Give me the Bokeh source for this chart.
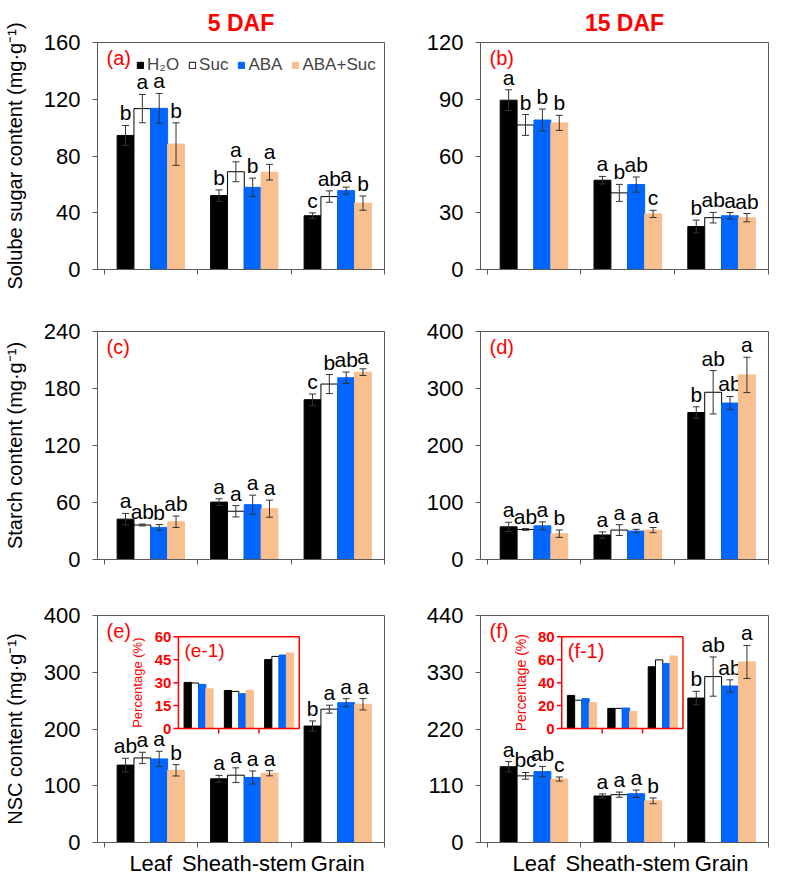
import numpy as np
from bokeh.plotting import figure
from bokeh.models import Range1d, FixedTicker, ColumnDataSource, Whisker, TeeHead, Legend, LegendItem
from bokeh.transform import dodge
from bokeh.layouts import gridplot
from bokeh.embed import file_html
from bokeh.resources import INLINE
from bokeh.core.properties import value

# ---------------- data ----------------
organs = ["Leaf", "Sheath-stem", "Grain"]
treatments = ["H\u2082O", "Suc", "ABA", "ABA+Suc"]

# (a) soluble sugar, 5 DAF  rows = organs, cols = treatments
sugar5_mean = [[94.5, 113.4, 113.6, 88.4], [52.1, 68.9, 57.9, 68.6], [37.9, 51.4, 55.6, 46.8]]
sugar5_err = [[7.0, 10.0, 10.5, 15.0], [4.0, 7.0, 6.5, 5.5], [2.0, 4.0, 2.5, 5.0]]
sugar5_let = [["b", "a", "a", "b"], ["b", "a", "b", "a"], ["c", "ab", "a", "b"]]

# (b) soluble sugar, 15 DAF
sugar15_mean = [[89.5, 76.4, 79.0, 77.5], [47.2, 40.5, 44.9, 29.4], [22.7, 27.4, 28.4, 27.4]]
sugar15_err = [[5.5, 5.5, 5.8, 4.0], [2.0, 4.5, 4.0, 1.9], [3.4, 2.8, 1.7, 2.2]]
sugar15_let = [["a", "b", "b", "b"], ["a", "b", "ab", "c"], ["b", "ab", "a", "ab"]]

# (c) starch, 5 DAF
starch5_mean = [[42.5, 36.3, 33.8, 39.7], [60.4, 50.8, 57.7, 53.5], [168.2, 184.7, 191.3, 197.2]]
starch5_err = [[6.0, 1.0, 3.0, 6.0], [3.5, 6.0, 10.0, 9.0], [6.0, 10.0, 6.0, 3.5]]
starch5_let = [["a", "ab", "b", "ab"], ["a", "a", "a", "a"], ["c", "b", "ab", "a"]]

# (d) starch, 15 DAF
starch15_mean = [[57.3, 52.7, 59.0, 45.3], [43.0, 51.6, 49.9, 51.6], [257.9, 293.4, 274.5, 323.8]]
starch15_err = [[8.0, 1.5, 7.0, 6.5], [5.5, 9.5, 3.0, 4.5], [10.0, 38.0, 11.5, 31.0]]
starch15_let = [["a", "ab", "a", "b"], ["a", "a", "a", "a"], ["b", "ab", "ab", "a"]]

# (e) NSC, 5 DAF
nsc5_mean = [[136.4, 149.0, 147.3, 127.2], [112.3, 118.6, 114.6, 122.0], [205.2, 235.0, 246.4, 243.6]]
nsc5_err = [[12.0, 10.0, 13.5, 10.0], [6.0, 13.0, 11.5, 4.5], [9.0, 7.0, 7.0, 10.0]]
nsc5_let = [["ab", "a", "a", "b"], ["a", "a", "a", "a"], ["b", "a", "a", "a"]]

# (f) NSC, 15 DAF
nsc15_mean = [[146.9, 129.2, 137.4, 123.0], [90.2, 92.7, 94.6, 80.7], [280.0, 321.6, 303.3, 350.0]]
nsc15_err = [[10.0, 6.5, 10.0, 4.0], [4.0, 5.0, 7.0, 5.5], [13.0, 38.0, 12.0, 32.0]]
nsc15_let = [["a", "bc", "ab", "c"], ["a", "a", "a", "b"], ["b", "ab", "ab", "a"]]

# insets: percentage of NSC (%)
pct5 = [[30.2, 29.8, 28.9, 26.0], [24.9, 24.3, 22.8, 25.1], [45.1, 47.2, 48.1, 49.4]]
pct15 = [[28.9, 24.7, 26.1, 22.7], [17.6, 17.6, 17.9, 15.0], [53.9, 59.9, 56.7, 63.3]]

# ---------------- style ----------------
FONT = "Liberation Sans"
RED = "#FF0000"
AXIS = "#595959"
ERR = "#333333"
FILLS = ["#000000", "#FFFFFF", "#0066FF", "#F9BF8F"]
LINES = ["#000000", "#000000", "#0066FF", "#F9BF8F"]
OFFS = [-0.27, -0.09, 0.09, 0.27]
BAR_W = 0.18
X0, X1 = -0.07, 3.0
centers = [i + 0.5 for i in range(len(organs))]


def make_panel(means, errs, lets, ymax, step, tag, left, height, btop, bbot,
               ylabel=None, title=None, xlabels=False, legend=False):
    p = figure(width=386 if left else 385, height=height,
               x_range=Range1d(X0, X1), y_range=Range1d(0, ymax),
               output_backend="svg", toolbar_location=None,
               min_border_left=96 if left else 94, min_border_right=2 if left else 3,
               min_border_top=btop, min_border_bottom=bbot)
    p.background_fill_color = "white"
    p.border_fill_color = "white"
    p.grid.visible = False
    p.outline_line_color = AXIS
    p.outline_line_width = 1

    rends = []
    for j in range(len(treatments)):
        top = [means[i][j] for i in range(3)]
        err = [errs[i][j] for i in range(3)]
        src = ColumnDataSource(dict(
            x=centers, top=top,
            upper=[t + e for t, e in zip(top, err)],
            lower=[t - e for t, e in zip(top, err)],
            letter=[lets[i][j] for i in range(3)]))
        r = p.vbar(x=dodge("x", OFFS[j]), top="top", width=BAR_W, source=src,
                   fill_color=FILLS[j], line_color=LINES[j], line_width=1)
        rends.append(r)
        w = Whisker(base=dodge("x", OFFS[j]), upper="upper", lower="lower", source=src,
                    line_color=ERR, line_width=1, level="annotation",
                    upper_head=TeeHead(size=7, line_color=ERR, line_width=1),
                    lower_head=TeeHead(size=7, line_color=ERR, line_width=1))
        p.add_layout(w)
        p.text(x=dodge("x", OFFS[j]), y="upper", text="letter", source=src,
               text_align="center", text_baseline="bottom", y_offset=-1,
               text_font=value(FONT), text_font_size="21px", text_color="black")

    # panel tag
    p.text(x=[X0], y=[ymax], text=[tag], x_offset=9, y_offset=4,
           text_align="left", text_baseline="top", text_font=value(FONT),
           text_font_size="20px", text_color=RED)

    # axes
    xa = p.xaxis[0]
    xa.ticker = FixedTicker(ticks=centers, minor_ticks=[0, 1, 2, 3])
    xa.major_tick_line_color = None
    xa.minor_tick_line_color = AXIS
    xa.minor_tick_in = 0
    xa.minor_tick_out = 5
    xa.axis_line_color = AXIS
    xa.major_label_text_font = FONT
    xa.major_label_text_color = "black"
    xa.major_label_standoff = 2
    if xlabels:
        xa.major_label_text_font_size = "22px"
        xa.major_label_overrides = {c: o for c, o in zip(centers, organs)}
    else:
        xa.major_label_text_font_size = "1px"
        xa.major_label_overrides = {c: "" for c in centers}

    ya = p.yaxis[0]
    ya.ticker = FixedTicker(ticks=list(range(0, ymax + 1, step)))
    ya.minor_tick_line_color = None
    ya.major_tick_line_color = AXIS
    ya.major_tick_in = 0
    ya.major_tick_out = 5
    ya.axis_line_color = AXIS
    ya.major_label_text_font = FONT
    ya.major_label_text_font_size = "22px"
    ya.major_label_text_color = "black"
    ya.major_label_standoff = 12
    if ylabel:
        ya.axis_label = ylabel
        ya.axis_label_text_font = FONT
        ya.axis_label_text_font_size = "20px"
        ya.axis_label_text_font_style = "normal"
        ya.axis_label_text_color = "black"
        ya.axis_label_standoff = 15

    if title:
        p.title.text = title
        p.title.align = "center"
        p.title.text_color = RED
        p.title.text_font = FONT
        p.title.text_font_size = "23px"
        p.title.text_font_style = "bold"
        p.title.standoff = 14
        p.title.offset = 10

    if legend:
        lg = Legend(items=[LegendItem(label=t, renderers=[r]) for t, r in zip(treatments, rends)],
                    orientation="horizontal", location=(39, 228 - 34),
                    glyph_width=8, glyph_height=8, label_standoff=3, spacing=9,
                    padding=0, margin=0, border_line_color=None, background_fill_alpha=0,
                    label_text_font=FONT, label_text_font_size="17px", label_height=18,
                    label_text_baseline="middle")
        p.add_layout(lg)
    return p


def add_inset(p, pct, ymax_i, step_i, tag, pct_font, tag_font):
    fx0, fx1 = 0.282, 0.703
    fy0, fy1 = 0.502, 0.906
    xs = 3 / (fx1 - fx0)
    ys = ymax_i / (fy1 - fy0)
    p.extra_x_ranges = {"ix": Range1d(-fx0 * xs, (1 - fx0) * xs)}
    p.extra_y_ranges = {"iy": Range1d(-fy0 * ys, (1 - fy0) * ys)}
    kw = dict(x_range_name="ix", y_range_name="iy")
    p.quad(left=[0], right=[3], bottom=[0], top=[ymax_i], fill_color="white",
           line_color=None, **kw)
    for j in range(len(treatments)):
        src = ColumnDataSource(dict(x=centers, pct=[pct[i][j] for i in range(3)]))
        p.vbar(x=dodge("x", OFFS[j]), top="pct", width=BAR_W, source=src,
               fill_color=FILLS[j], line_color=LINES[j], line_width=1, **kw)
    p.quad(left=[0], right=[3], bottom=[0], top=[ymax_i], fill_color=None,
           line_color=RED, line_width=1.5, **kw)
    ticks = list(range(0, ymax_i + 1, step_i))
    p.ray(x=[0] * len(ticks), y=ticks, length=5, length_units="screen", angle=np.pi,
          line_color=RED, line_width=1.5, **kw)
    p.ray(x=[1, 2], y=[0, 0], length=5, length_units="screen", angle=-np.pi / 2,
          line_color=RED, line_width=1.5, **kw)
    p.text(x=[0] * len(ticks), y=ticks, text=[str(t) for t in ticks], x_offset=-7,
           text_align="right", text_baseline="middle", text_font=value(FONT),
           text_font_size="15px", text_font_style="bold", text_color=RED, **kw)
    p.text(x=[0], y=[ymax_i / 2], text=["Percentage (%)"], x_offset=-33, angle=np.pi / 2,
           text_align="center", text_baseline="bottom", text_font=value(FONT),
           text_font_size=pct_font, text_color=RED, **kw)
    p.text(x=[0], y=[ymax_i], text=[tag], x_offset=6, y_offset=3,
           text_align="left", text_baseline="top", text_font=value(FONT),
           text_font_size=tag_font, text_color=RED, **kw)


YL = "(mg\u00b7g\u207b\u00b9)"
pa = make_panel(sugar5_mean, sugar5_err, sugar5_let, 160, 40, "(a)", True, 293, 41, 24,
                ylabel="Solube sugar content " + YL, title="5 DAF", legend=True)
pb = make_panel(sugar15_mean, sugar15_err, sugar15_let, 120, 30, "(b)", False, 293, 41, 24,
                title="15 DAF")
pc = make_panel(starch5_mean, starch5_err, starch5_let, 240, 60, "(c)", True, 291, 38, 25,
                ylabel="Starch content " + YL)
pd_ = make_panel(starch15_mean, starch15_err, starch15_let, 400, 100, "(d)", False, 291, 38, 25)
pe = make_panel(nsc5_mean, nsc5_err, nsc5_let, 400, 100, "(e)", True, 294, 31, 34,
                ylabel="NSC content " + YL, xlabels=True)
pf = make_panel(nsc15_mean, nsc15_err, nsc15_let, 440, 110, "(f)", False, 294, 31, 34,
                xlabels=True)
add_inset(pe, pct5, 60, 15, "(e-1)", "13px", "19px")
add_inset(pf, pct15, 80, 20, "(f-1)", "14px", "20px")

grid = gridplot([[pa, pb], [pc, pd_], [pe, pf]], toolbar_location=None)
open("out.html", "w").write(file_html(grid, INLINE))
